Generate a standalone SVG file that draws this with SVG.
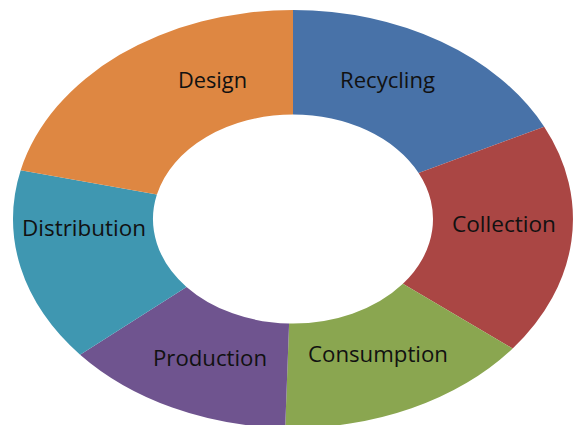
<svg xmlns="http://www.w3.org/2000/svg" width="576" height="425" viewBox="0 0 576 425">
<style>
.lbl{font-family:"Open Sans","Noto Sans","Liberation Sans",sans-serif;font-size:21px;fill:#111;}
.seg{stroke:none;}
</style>
<rect width="576" height="425" fill="#ffffff"/>
<g id="connectors"></g>
<g id="recycling">
<path class="seg" fill="#4872A8" d="M293,10 A280,209 0 0 1 544.2,126.7 L418.6,172.9 A140,104.5 0 0 0 293,114.5 Z"/>
<text class="lbl" x="340" y="88" textLength="95" lengthAdjust="spacingAndGlyphs">Recycling</text>
</g>
<g id="collection">
<path class="seg" fill="#AA4644" d="M544.2,126.7 A280,209 0 0 1 512.7,348.5 L402.9,283.8 A140,104.5 0 0 0 418.6,172.9 Z"/>
<text class="lbl" x="452" y="232" textLength="104" lengthAdjust="spacingAndGlyphs">Collection</text>
</g>
<g id="consumption">
<path class="seg" fill="#8AA650" d="M512.7,348.5 A280,209 0 0 1 285.2,427.9 L289.1,323.5 A140,104.5 0 0 0 402.9,283.8 Z"/>
<text class="lbl" x="308" y="362" textLength="140" lengthAdjust="spacingAndGlyphs">Consumption</text>
</g>
<g id="production">
<path class="seg" fill="#6F548F" d="M285.2,427.9 A280,209 0 0 1 80.1,354.7 L186.5,286.9 A140,104.5 0 0 0 289.1,323.5 Z"/>
<text class="lbl" x="153" y="366" textLength="114" lengthAdjust="spacingAndGlyphs">Production</text>
</g>
<g id="distribution">
<path class="seg" fill="#3F97B1" d="M80.1,354.7 A280,209 0 0 1 20.7,170.2 L156.9,194.6 A140,104.5 0 0 0 186.5,286.9 Z"/>
<text class="lbl" x="22" y="236" textLength="124" lengthAdjust="spacingAndGlyphs">Distribution</text>
</g>
<g id="design">
<path class="seg" fill="#DE8742" d="M20.7,170.2 A280,209 0 0 1 293,10 L293,114.5 A140,104.5 0 0 0 156.9,194.6 Z"/>
<text class="lbl" x="178" y="88" textLength="69" lengthAdjust="spacingAndGlyphs">Design</text>
</g>
</svg>
